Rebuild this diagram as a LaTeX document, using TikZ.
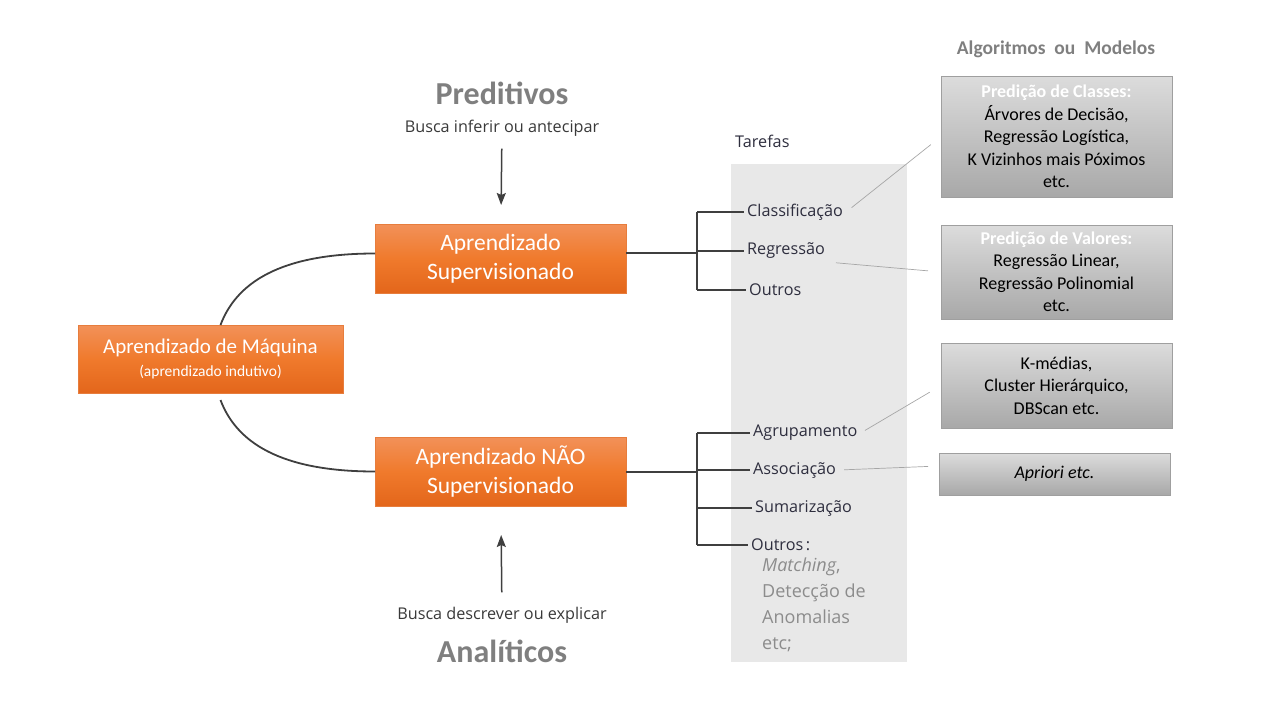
\documentclass[tikz,border=0pt]{standalone}
\usepackage{fontspec}
\setmainfont{Carlito}
\newfontfamily\osans{Open Sans}
\usetikzlibrary{arrows.meta}
\definecolor{orgtop}{HTML}{F29159}
\definecolor{orgmid}{HTML}{F07A2C}
\definecolor{orgbot}{HTML}{E3661B}
\definecolor{grytop}{HTML}{DCDCDC}
\definecolor{grybot}{HTML}{A8A8A8}
\definecolor{txtgray}{HTML}{7F7F7F}
\definecolor{taskcol}{HTML}{2E2E3E}
\definecolor{bandcol}{HTML}{E8E8E8}
\definecolor{linecol}{HTML}{3F3F3F}
\tikzset{
    learn/.style = {
        rectangle, draw=orgbot!85!white, align=center,
        top color=orgtop, bottom color=orgbot, middle color=orgmid,
        text=white,
        outer sep=0,
        inner sep=0,
        font=\fontsize{23.5}{28.5}\selectfont
    },
    algo/.style = {
        rectangle, draw=gray!75, align=center,
        top color=grytop, bottom color=grybot,
        outer sep=0,
        inner sep=0,
        minimum width=231pt,
        font=\fontsize{18}{22.5}\selectfont
    },
    band/.style = {
        rectangle, fill=bandcol, inner sep=0,
        minimum width=176pt, minimum height=498pt
    },
    task/.style = {
        anchor=west, inner sep=3pt, text=taskcol,
        font=\osans\fontsize{16.2}{18}\selectfont
    },
    heading/.style = {
        text=txtgray, font=\bfseries\fontsize{32}{36}\selectfont
    },
    hint/.style = {
        text=linecol!90!black, font=\osans\fontsize{16.2}{18}\selectfont
    },
    branch/.style = {draw=linecol, line width=2pt},
    link/.style   = {draw=gray!70, line width=0.7pt},
    arr/.style    = {draw=linecol, line width=1.5pt,
                     -{Stealth[length=12pt,width=9pt,inset=2pt]}}
}

\begin{document}
\begin{tikzpicture}[x=1pt,y=-1pt]
\useasboundingbox (0,0) rectangle (1280,720);

% 1. background band of the tasks
\node[band] (band) at (819,413) {};

% 2. learning boxes
\node[learn, minimum width=265pt, minimum height=68pt,
      font=\fontsize{21}{23}\selectfont] (ml) at (210.5,359)
     {Aprendizado de Máquina\\{\fontsize{15.5}{16}\selectfont(aprendizado indutivo)}};
\node[learn, minimum width=251pt, minimum height=69pt] (sup)   at (500.5,258.5)
     {Aprendizado\\Supervisionado};
\node[learn, minimum width=251pt, minimum height=69pt] (unsup) at (500.5,471.5)
     {Aprendizado NÃO\\Supervisionado};

% 3. predictive / descriptive labels
\node[heading] (pred)  at (502,93)  {Preditivos};
\node[hint]    (predh) at (502,128) {Busca inferir ou antecipar};
\node[hint]    (anah)  at (502,615) {Busca descrever ou explicar};
\node[heading] (ana)   at (502,651) {Analíticos};

\draw[arr, shorten <=9pt,  shorten >=19pt] (predh) -- (sup);
\draw[arr, shorten <=11pt, shorten >=29pt] (anah)  -- (unsup);

% 4. curves from the main box
\draw[branch, line width=1.8pt] ([xshift=10pt]ml.north)
    .. controls +(18,-48) and +(-85,0) .. ([yshift=5pt]sup.west);
\draw[branch, line width=1.8pt] ([xshift=10pt,yshift=-7pt]ml.south)
    .. controls +(18,48) and +(-85,0) .. (unsup.west);

% 5. tasks
\node[task] (tar) at (732,141) {Tarefas};
\node[task] (cls) at (744,212) {Classificação};
\node[task] (reg) at (744,251) {Regressão};
\node[task] (ou1) at (746,290) {Outros};
\node[task] (agr) at (750,433) {Agrupamento};
\node[task] (ass) at (750,470) {Associação};
\node[task] (sum) at (752,508) {Sumarização};
\node[task] (ou2) at (748,545) {Outros\,:};
\node[anchor=north west, inner sep=0, align=left, text=gray!90,
      font=\osans\fontsize{18}{26}\selectfont] (ou2txt) at (762,558)
     {\textit{Matching},\\Detecção de\\Anomalias\\etc;};

\coordinate (bs) at (697,253);
\coordinate (bu) at (697,472);
\draw[branch] (sup.east |- bs) -- (bs);
\draw[branch] (bs |- cls) -- (bs |- ou1);
\foreach \t in {cls,reg,ou1}
  \draw[branch] (bs |- \t) -- (\t.west);
\draw[branch] (unsup.east |- bu) -- (bu);
\draw[branch] (bu |- agr) -- (bu |- ou2);
\foreach \t in {agr,ass,sum,ou2}
  \draw[branch] (bu |- \t) -- (\t.west);

% 6. algorithms or models
\node[text=txtgray, font=\bfseries\fontsize{19.5}{22}\selectfont] (alg) at (1056,49)
     {Algoritmos~~ou~~Modelos};
\node[algo, minimum height=121pt] (cla) at (1056.5,136.5)
     {\textcolor{white}{\bfseries Predição de Classes:}\\Árvores de Decisão,\\
      Regressão Logística,\\K Vizinhos mais Póximos\\etc.};
\node[algo, minimum height=94pt] (val) at (1056.5,272)
     {\textcolor{white}{\bfseries Predição de Valores:}\\Regressão Linear,\\
      Regressão Polinomial\\etc.};
\node[algo, minimum height=85pt] (grp) at (1056.5,385.5)
     {K-médias,\\Cluster Hierárquico,\\DBScan etc.};
\node[algo, minimum height=42pt] (apr) at (1054.5,474)
     {\itshape Apriori etc.};

% 7. thin links task -> models
\draw[link, shorten <=7pt, shorten >=13pt] (cls.east) -- (cla.west);
\draw[link, shorten <=8pt, shorten >=13pt] (reg.south east) -- (val.west);
\draw[link, shorten <=5pt, shorten >=13pt] (agr.east) -- (grp.west);
\draw[link, shorten <=5pt, shorten >=11pt] (ass.east) -- ([yshift=8pt]apr.west);

\end{tikzpicture}
\end{document}
